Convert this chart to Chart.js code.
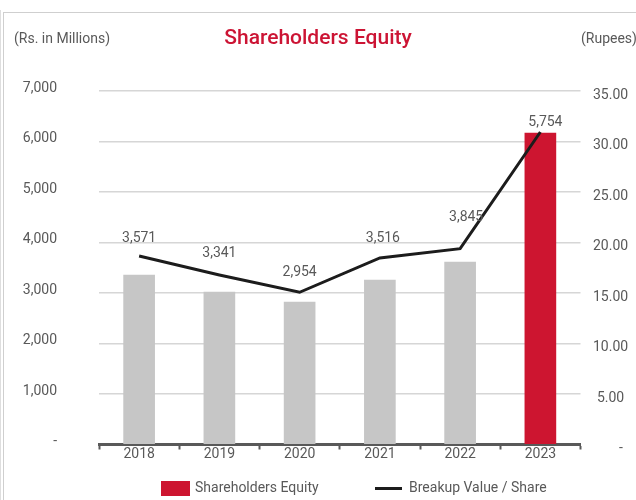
<!DOCTYPE html>
<html>
<head>
<meta charset="utf-8">
<script src="https://cdn.jsdelivr.net/npm/chart.js@4.4.1/dist/chart.umd.min.js"></script>
<style>
  html, body { margin: 0; padding: 0; background: #ffffff; }
  #wrap { position: relative; width: 636px; height: 500px; overflow: hidden; font-family: Roboto, 'Liberation Sans', sans-serif; }
  #chart { position: absolute; left: 0; top: 0; }
  .frame-top { position: absolute; left: 3px; top: 12px; right: 0; border-top: 1px solid #cfcfcf; }
  .frame-left { position: absolute; left: 3px; top: 12px; bottom: 0; border-left: 1px solid #cfcfcf; }
  .frame-left2 { position: absolute; left: 0px; top: 10px; bottom: 0; border-left: 1px solid #dedede; }
  .unit { position: absolute; top: 30px; font-size: 14px; line-height: 17px; color: #595959; white-space: nowrap; }
  #legend { position: absolute; top: 479px; left: 0; width: 636px; height: 20px; font-size: 14px; line-height: 17px; color: #595959; }
  .lg-item { position: absolute; top: 0; white-space: nowrap; }
  .lg-box { position: absolute; }
</style>
</head>
<body>
<div id="wrap">
  <div class="frame-left2"></div>
  <div class="frame-top"></div>
  <div class="frame-left"></div>
  <canvas id="chart" width="636" height="500"></canvas>
  <div class="unit" style="left:14px;">(Rs. in Millions)</div>
  <div class="unit" style="left:581px;">(Rupees)</div>
  <div id="legend"></div>
</div>
<script>
// ---- data ----
const categories = ['2018', '2019', '2020', '2021', '2022', '2023'];
const equityValues = [3356, 3020, 2822, 3257, 3614, 6168];        // Shareholders Equity (Rs. in Millions), bars
const breakupValues = [18.66, 16.78, 15.07, 18.47, 19.39, 30.94];  // Breakup Value / Share (Rupees), line
const pointLabels = ['3,571', '3,341', '2,954', '3,516', '3,845', '5,754'];
const leftTickValues = [0, 1000, 2000, 3000, 4000, 5000, 6000, 7000];
const rightTickValues = [0, 5, 10, 15, 20, 25, 30, 35];

// ---- styles ----
const GRAY_TEXT = '#595959';
const RED = '#cd1530';
const BAR_GRAY = '#c6c6c6';
const barColors = categories.map((c, i) => i === categories.length - 1 ? RED : BAR_GRAY);
const labelShift = [[0, 18], [0, 22], [0, 20], [3, 19], [6, 31], [5, 10]];

Chart.defaults.font.family = 'Roboto, "Liberation Sans", sans-serif';
Chart.defaults.font.size = 14;
Chart.defaults.color = GRAY_TEXT;

const pointLabelPlugin = {
  id: 'pointLabels',
  afterDatasetsDraw(chart) {
    const meta = chart.getDatasetMeta(1);
    const ctx = chart.ctx;
    ctx.save();
    ctx.font = '14px Roboto, "Liberation Sans", sans-serif';
    ctx.fillStyle = GRAY_TEXT;
    ctx.textAlign = 'center';
    ctx.textBaseline = 'middle';
    meta.data.forEach((pt, i) => {
      const s = labelShift[i];
      ctx.fillText(pointLabels[i], pt.x + s[0], pt.y - s[1]);
    });
    ctx.restore();
  }
};

const chart = new Chart(document.getElementById('chart'), {
  type: 'bar',
  data: {
    labels: categories,
    datasets: [
      {
        type: 'bar',
        label: 'Shareholders Equity',
        data: equityValues,
        backgroundColor: barColors,
        legendColor: RED,
        barThickness: 31,
        yAxisID: 'y',
        order: 1
      },
      {
        type: 'line',
        label: 'Breakup Value / Share',
        data: breakupValues,
        borderColor: '#1c1c1c',
        borderWidth: 3,
        pointRadius: 0,
        pointHoverRadius: 0,
        tension: 0,
        fill: false,
        yAxisID: 'y1',
        order: 0
      }
    ]
  },
  options: {
    responsive: false,
    animation: false,
    maintainAspectRatio: false,
    layout: { padding: { left: 0, right: 0, top: 0, bottom: 25.5 } },
    plugins: {
      legend: { display: false },
      tooltip: { enabled: false },
      title: {
        display: true,
        text: 'Shareholders Equity',
        color: '#cc1434',
        font: { size: 21, weight: '500', family: 'Roboto, "Liberation Sans", sans-serif' },
        padding: { top: 26.5, bottom: 39.3 }
      }
    },
    scales: {
      x: {
        offset: true,
        grid: { display: true, drawOnChartArea: false, drawTicks: true, tickLength: 5, tickWidth: 2, tickColor: GRAY_TEXT, offset: true },
        border: { display: true, color: GRAY_TEXT, width: 3 },
        ticks: { padding: -3, color: GRAY_TEXT, font: { size: 14 } },
        afterFit(scale) { scale.height = 30; }
      },
      y: {
        position: 'left',
        min: 0,
        max: 7000,
        afterBuildTicks(scale) { scale.ticks = leftTickValues.map(v => ({ value: v })); },
        grid: { color: '#d6d6d6', lineWidth: 1.5, drawTicks: false },
        border: { display: false },
        ticks: {
          padding: 42,
          labelOffset: -3,
          color: GRAY_TEXT,
          font: { size: 14 },
          callback: v => v === 0 ? '-' : Number(v).toLocaleString('en-US')
        },
        afterFit(scale) { scale.width = 99; }
      },
      y1: {
        position: 'right',
        min: 0,
        max: 35,
        afterBuildTicks(scale) { scale.ticks = rightTickValues.map(v => ({ value: v })); },
        grid: { display: false, drawOnChartArea: false, drawTicks: false },
        border: { display: false },
        ticks: {
          padding: 12.5,
          crossAlign: 'center',
          labelOffset: 4,
          color: GRAY_TEXT,
          font: { size: 14 },
          callback: v => v === 0 ? '      -' : Number(v).toFixed(2)
        },
        afterFit(scale) { scale.width = 55.5; }
      }
    }
  },
  plugins: [pointLabelPlugin]
});

// ---- legend built from the chart's datasets ----
(function buildLegend() {
  const lg = document.getElementById('legend');
  const ds = chart.data.datasets;
  const items = [
    { boxLeft: 161, textLeft: 195, ds: ds[0], kind: 'box' },
    { boxLeft: 375, textLeft: 409, ds: ds[1], kind: 'line' }
  ];
  items.forEach(it => {
    const mark = document.createElement('div');
    mark.className = 'lg-box';
    if (it.kind === 'box') {
      Object.assign(mark.style, { left: it.boxLeft + 'px', top: '2px', width: '29px', height: '15px', background: it.ds.legendColor });
    } else {
      Object.assign(mark.style, { left: it.boxLeft + 'px', top: '8px', width: '27px', height: '3px', background: it.ds.borderColor });
    }
    lg.appendChild(mark);
    const t = document.createElement('div');
    t.className = 'lg-item';
    t.style.left = it.textLeft + 'px';
    t.textContent = it.ds.label;
    lg.appendChild(t);
  });
})();
</script>
</body>
</html>
